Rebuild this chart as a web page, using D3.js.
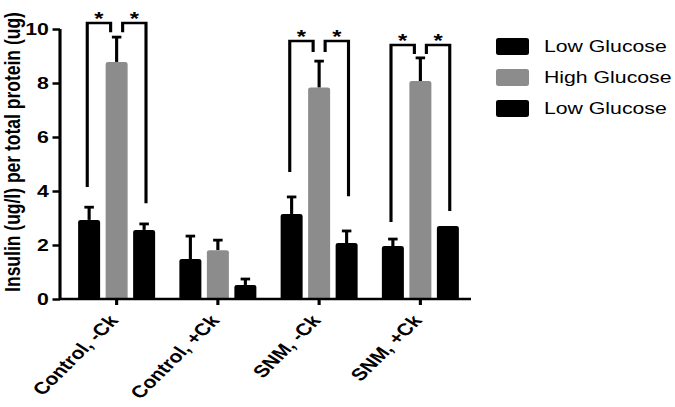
<!DOCTYPE html>
<html><head><meta charset="utf-8">
<script src="https://cdn.jsdelivr.net/npm/d3@7"></script>
<style>html,body{margin:0;padding:0;background:#fff;overflow:hidden}</style>
</head><body><svg id="c"></svg>
<script>
const categories = ["Control, -Ck","Control, +Ck","SNM, -Ck","SNM, +Ck"];
const seriesNames = ["Low Glucose","High Glucose","Low Glucose"];
const seriesColors = ["#000000","#8c8c8c","#000000"];
const lowGlucoseA = [2.93,1.48,3.15,1.96];
const lowGlucoseAErr = [0.47,0.85,0.63,0.26];
const highGlucose = [8.78,1.81,7.83,8.07];
const highGlucoseErr = [0.92,0.37,0.98,0.86];
const lowGlucoseB = [2.56,0.52,2.07,2.70];
const lowGlucoseBErr = [0.22,0.22,0.45,0.0];
const yTicks = [0,2,4,6,8,10];
const yTitle = "Insulin (ug/l) per total protein (ug)";
// significance brackets
const sigCategory = [0,0,2,2,3,3];
const sigFrom = [0,1,0,1,0,1];
const sigTo = [1,2,1,2,1,2];
const sigTop = [10.22,10.22,9.56,9.56,9.41,9.41];
const sigLeftEnd = [4.15,9.88,4.7,9.15,2.85,9.07];
const sigRightEnd = [9.88,3.55,9.15,3.81,9.07,3.26];
const sigLabel = ["*","*","*","*","*","*"];

const seriesValues = [lowGlucoseA, highGlucose, lowGlucoseB];
const seriesErrors = [lowGlucoseAErr, highGlucoseErr, lowGlucoseBErr];

// original graphic is horizontally stretched: draw in a narrower space and stretch
const SW = 675, SH = 407, SX = 1.25;
const W = SW / SX, H = SH;
const svg = d3.select("#c").attr("width", SW).attr("height", SH)
  .attr("viewBox", `0 0 ${W} ${H}`).attr("preserveAspectRatio", "none");
const font = "'Liberation Sans', Arial, Helvetica, sans-serif";

const axisX = 48, y0 = 299, yTop = 29;
const x0 = d3.scaleBand().domain(categories).range([52.8, 376.8]);
const x1 = d3.scaleBand().domain([0,1,2]).range([-33, 33]).paddingInner(0.2).paddingOuter(0.1);
const y = d3.scaleLinear().domain([0, 10]).range([y0, yTop]);
const cx = c => x0(c) + x0.bandwidth() / 2;
const bx = (ci, s) => cx(categories[ci]) + x1(s);
const bc = (ci, s) => bx(ci, s) + x1.bandwidth() / 2;

const lw = 2.5;

// bars
const bars = [];
seriesValues.forEach((vals, s) => vals.forEach((v, ci) => bars.push({s, ci, v, e: seriesErrors[s][ci]})));
function barPath(x, w, yt, yb, r) {
  return `M${x},${yb}V${yt + r}Q${x},${yt} ${x + r},${yt}H${x + w - r}Q${x + w},${yt} ${x + w},${yt + r}V${yb}Z`;
}
// error bars
svg.append("g").selectAll("g").data(bars.filter(d => d.e > 0)).join("g").each(function(d) {
  const g = d3.select(this);
  const xc = bc(d.ci, d.s);
  g.append("line").attr("x1", xc).attr("x2", xc).attr("y1", y(d.v)).attr("y2", y(d.v + d.e))
    .attr("stroke", "#000").attr("stroke-width", lw);
  g.append("line").attr("x1", xc - 3.8).attr("x2", xc + 3.8).attr("y1", y(d.v + d.e)).attr("y2", y(d.v + d.e))
    .attr("stroke", "#000").attr("stroke-width", 2.8);
});
svg.append("g").selectAll("path").data(bars).join("path")
  .attr("d", d => barPath(bx(d.ci, d.s), x1.bandwidth(), y(d.v), y0, 2))
  .attr("fill", d => seriesColors[d.s]);

// significance brackets
function legX(ci, s, other) {
  const c = cx(categories[ci]);
  if (s === 1) return c + (other < 1 ? -4.8 : 4.8);
  return bc(ci, s) + (s === 0 ? -1.5 : 1.5);
}
const sig = sigCategory.map((ci, i) => ({ci, a: sigFrom[i], b: sigTo[i], top: sigTop[i], l: sigLeftEnd[i], r: sigRightEnd[i], t: sigLabel[i]}));
const sg = svg.append("g");
sig.forEach(d => {
  const xl = legX(d.ci, d.a, d.b), xr = legX(d.ci, d.b, d.a);
  sg.append("path").attr("d", `M${xl},${y(d.l)}V${y(d.top)}H${xr}V${y(d.r)}`)
    .attr("fill", "none").attr("stroke", "#000").attr("stroke-width", lw).attr("stroke-linejoin", "miter");
  sg.append("text").attr("x", (xl + xr) / 2).attr("y", y(d.top) + 2).attr("text-anchor", "middle")
    .attr("font-family", font).attr("font-size", 19).attr("font-weight", "bold").text(d.t);
});

// y axis
const ya = svg.append("g").attr("transform", `translate(${axisX},0)`)
  .call(d3.axisLeft(y).tickValues(yTicks).tickFormat(d3.format("d")).tickSize(6).tickPadding(3));
ya.select(".domain").attr("d", `M0,${yTop}V${y0}`).attr("stroke-width", lw);
ya.selectAll(".tick line").attr("stroke-width", lw);
ya.selectAll(".tick text").attr("font-family", font).attr("font-size", 17).attr("font-weight", "bold").attr("fill", "#000");

// x axis
const xa = svg.append("g").attr("transform", `translate(0,${y0})`)
  .call(d3.axisBottom(x0).tickSize(6).tickFormat(""));
xa.select(".domain").attr("d", `M${axisX},0H${376.8}`).attr("stroke-width", lw);
xa.selectAll(".tick line").attr("stroke-width", lw);
svg.append("g").selectAll("text").data(categories).join("text")
  .attr("transform", d => `translate(${cx(d) + 2},${y0 + 22}) rotate(-51)`)
  .attr("text-anchor", "end")
  .attr("font-family", font).attr("font-size", 17).attr("font-weight", "bold").text(d => d);

// y title
svg.append("text").attr("transform", `translate(16,${152}) rotate(-90)`)
  .attr("text-anchor", "middle").attr("font-family", font).attr("font-size", 17.5).attr("font-weight", "bold")
  .text(yTitle);

// legend
const lg = svg.append("g").selectAll("g").data(seriesNames).join("g")
  .attr("transform", (d, i) => `translate(396.8,${46.5 + i * 31})`);
lg.append("rect").attr("x", 0).attr("y", -8.5).attr("width", 26.4).attr("height", 17).attr("rx", 2)
  .attr("fill", (d, i) => seriesColors[i]);
lg.append("text").attr("x", 38.4).attr("dy", "0.35em").attr("font-family", font).attr("font-size", 17)
  .text(d => d);
</script></body></html>
